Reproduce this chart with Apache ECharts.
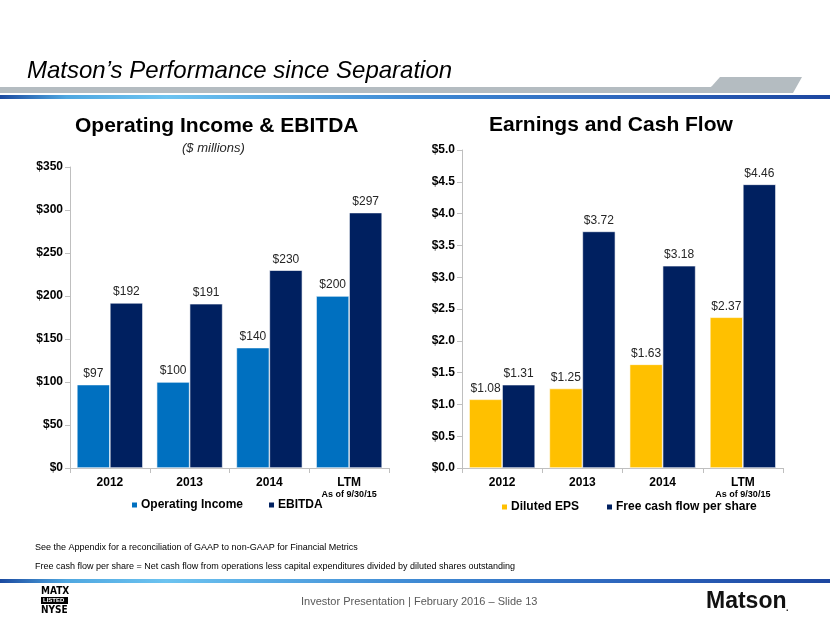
<!DOCTYPE html>
<html>
<head>
<meta charset="utf-8">
<script src="https://cdn.jsdelivr.net/npm/echarts@6/dist/echarts.min.js"></script>
<style>
html,body{margin:0;padding:0;background:#fff;}
#c{width:830px;height:623px;}
</style>
</head>
<body>
<div id="c"></div>
<script>
// ---- data ----
const categories = ['2012', '2013', '2014', 'LTM'];
const operatingIncome = [97, 100, 140, 200];
const ebitda = [192, 191, 230, 297];
const dilutedEPS = [1.08, 1.25, 1.63, 2.37];
const fcfPerShare = [1.31, 3.72, 3.18, 4.46];
const leftTicks = { min: 0, max: 350, interval: 50 };
const rightTicks = { min: 0, max: 5, interval: 0.5 };

const FONT = '"Liberation Sans", Arial, sans-serif';
const chart = echarts.init(document.getElementById('c'), null, { renderer: 'canvas' });

const axisGray = '#bfbfbf';
function xAxisCfg(gridIndex) {
  return {
    type: 'category', gridIndex, data: categories,
    axisLine: { lineStyle: { color: axisGray, width: 1 } },
    axisTick: { show: true, interval: 0, alignWithLabel: false, length: 5, lineStyle: { color: axisGray } },
    axisLabel: {
      interval: 0, margin: 8, color: '#000', fontFamily: FONT, fontWeight: 'bold', fontSize: 12,
      formatter: v => v === 'LTM' ? '{a|LTM}\n{b|As of 9/30/15}' : '{a|' + v + '}',
      rich: {
        a: { fontFamily: FONT, fontWeight: 'bold', fontSize: 12, color: '#000', lineHeight: 13 },
        b: { fontFamily: FONT, fontWeight: 'bold', fontSize: 9, color: '#000', lineHeight: 11 }
      }
    }
  };
}
function yAxisCfg(gridIndex, t, fmt) {
  return {
    type: 'value', gridIndex, min: t.min, max: t.max, interval: t.interval,
    axisLine: { show: true, lineStyle: { color: axisGray } },
    axisTick: { show: true, length: 5, lineStyle: { color: axisGray } },
    splitLine: { show: false },
    axisLabel: { margin: 7, color: '#000', fontFamily: FONT, fontWeight: 'bold', fontSize: 12, formatter: fmt }
  };
}
function barSeries(name, data, color, xi, fmt) {
  return {
    type: 'bar', name, data, xAxisIndex: xi, yAxisIndex: xi,
    barWidth: 33, barGap: '0%',
    itemStyle: { color, borderColor: '#ffffff', borderWidth: 0.6 },
    label: {
      show: true, position: 'top', distance: 5,
      color: '#262626', fontFamily: FONT, fontSize: 12, formatter: p => fmt(p.value)
    },
    emphasis: { disabled: true }
  };
}

const gradStops = [
  { offset: 0, color: '#1b4aa0' }, { offset: 0.08, color: '#4fa7e0' },
  { offset: 0.2, color: '#6cc3f0' }, { offset: 0.5, color: '#3f8ad4' },
  { offset: 0.8, color: '#2a5fb8' }, { offset: 1, color: '#1d47a0' }];

const option = {
  animation: false,
  backgroundColor: '#ffffff',
  title: [
    { text: 'Matson’s Performance since Separation', left: 27, top: 59, padding: 0,
      textStyle: { fontFamily: FONT, fontStyle: 'italic', fontWeight: 'normal', fontSize: 24, color: '#000' } },
    { text: 'Operating Income & EBITDA', left: 75, top: 116, padding: 0,
      textStyle: { fontFamily: FONT, fontWeight: 'bold', fontSize: 21, color: '#000' } },
    { text: '($ millions)', left: 182, top: 142, padding: 0,
      textStyle: { fontFamily: FONT, fontStyle: 'italic', fontWeight: 'normal', fontSize: 13, color: '#262626' } },
    { text: 'Earnings and Cash Flow', left: 489, top: 115, padding: 0,
      textStyle: { fontFamily: FONT, fontWeight: 'bold', fontSize: 21, color: '#000' } }
  ],
  grid: [
    { left: 70, top: 167, width: 319, height: 301 },
    { left: 462, top: 150, width: 321, height: 318 }
  ],
  xAxis: [xAxisCfg(0), xAxisCfg(1)],
  yAxis: [
    yAxisCfg(0, leftTicks, v => '$' + v),
    yAxisCfg(1, rightTicks, v => '$' + v.toFixed(1))
  ],
  legend: [
    { data: ['Operating Income', 'EBITDA'], left: 125, top: 494, icon: 'rect', itemWidth: 7, itemHeight: 7, itemGap: 24,
      textStyle: { fontFamily: FONT, fontWeight: 'bold', fontSize: 12, color: '#000', padding: [0, 0, 0, -2] } },
    { data: ['Diluted EPS', 'Free cash flow per share'], left: 495, top: 496, icon: 'rect', itemWidth: 7, itemHeight: 7, itemGap: 26,
      textStyle: { fontFamily: FONT, fontWeight: 'bold', fontSize: 12, color: '#000', padding: [0, 0, 0, -2] } }
  ],
  series: [
    barSeries('Operating Income', operatingIncome, '#0070c0', 0, v => '$' + v),
    barSeries('EBITDA', ebitda, '#002060', 0, v => '$' + v),
    barSeries('Diluted EPS', dilutedEPS, '#ffc000', 1, v => '$' + v.toFixed(2)),
    barSeries('Free cash flow per share', fcfPerShare, '#002060', 1, v => '$' + v.toFixed(2))
  ],
  graphic: [
    // header gray band
    { type: 'rect', shape: { x: 0, y: 87, width: 725, height: 6 }, style: { fill: '#b4bcc1' }, silent: true },
    { type: 'polygon', shape: { points: [[703, 93], [712, 86], [720, 77], [802, 77], [793, 93]] }, style: { fill: '#b4bcc1' }, silent: true },
    // header blue gradient line
    { type: 'rect', shape: { x: 0, y: 95, width: 830, height: 4 },
      style: { fill: new echarts.graphic.LinearGradient(0, 0, 1, 0, gradStops) }, silent: true },
    // footnotes
    { type: 'text', left: 35, top: 543, style: { text: 'See the Appendix for a reconciliation of GAAP to non-GAAP for Financial Metrics',
      font: '9px ' + FONT, fill: '#000' }, silent: true },
    { type: 'text', left: 35, top: 562, style: { text: 'Free cash flow per share = Net cash flow from operations less capital expenditures divided by diluted shares outstanding',
      font: '9px ' + FONT, fill: '#000' }, silent: true },
    // footer blue line
    { type: 'rect', shape: { x: 0, y: 579, width: 830, height: 4 },
      style: { fill: new echarts.graphic.LinearGradient(0, 0, 1, 0, gradStops) }, silent: true },
    // footer text
    { type: 'text', left: 301, top: 596, style: { text: 'Investor Presentation | February 2016 – Slide 13',
      font: '11px ' + FONT, fill: '#595959' }, silent: true },
    // MATX / LISTED / NYSE logo
    { type: 'text', left: 41, top: 586, style: { text: 'MATX', font: 'bold 10px "DejaVu Sans Condensed", ' + FONT, fill: '#000' }, silent: true },
    { type: 'rect', shape: { x: 41, y: 597, width: 27, height: 7 }, style: { fill: '#000' }, silent: true },
    { type: 'text', left: 43, top: 597.5, style: { text: 'LISTED', font: 'bold 6px ' + FONT, fill: '#fff' }, silent: true },
    { type: 'text', left: 41, top: 605, style: { text: 'NYSE', font: 'bold 10px "DejaVu Sans Condensed", ' + FONT, fill: '#000' }, silent: true },
    // Matson logo
    { type: 'text', left: 706, top: 590, style: { text: 'Matson', font: 'bold 23px ' + FONT, fill: '#111' }, silent: true },
    { type: 'text', left: 786, top: 604, style: { text: '.', font: 'bold 9px ' + FONT, fill: '#111' }, silent: true }
  ]
};
chart.setOption(option);
</script>
</body>
</html>
